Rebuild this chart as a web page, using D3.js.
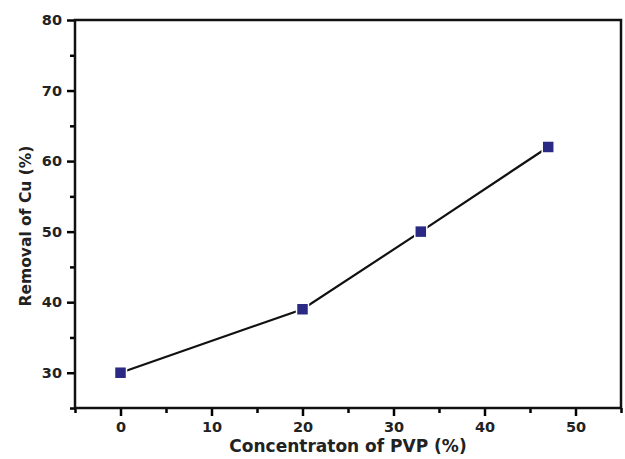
<!DOCTYPE html>
<html>
<head>
<meta charset="utf-8">
<script src="https://cdn.jsdelivr.net/npm/d3@7"></script>
<style>
  body { margin: 0; background: #fff; }
  text { font-family: "DejaVu Sans", "Liberation Sans", Arial, sans-serif; font-weight: bold; fill: #222; }
</style>
</head>
<body>
<div id="chart"></div>
<script>
// data
const pvp = [0, 20, 33, 47];
const removal = [30, 39, 50, 62];
const xTicks = [0, 10, 20, 30, 40, 50];
const yTicks = [30, 40, 50, 60, 70, 80];

let margin = { top: 20, right: 4, bottom: 51, left: 75 };
let width = 625 - margin.left - margin.right;
let height = 459 - margin.top - margin.bottom;

let svg = d3.select('#chart')
  .append('svg')
  .attr('width', 625)
  .attr('height', 459);

let g = svg.append('g')
  .attr('transform', 'translate(' + margin.left + ',' + margin.top + ')');

let x = d3.scaleLinear().domain([-5, 55]).range([0, width]);
let y = d3.scaleLinear().domain([25, 80]).range([height, 0]);

// minor ticks
g.append('g')
  .attr('transform', 'translate(0,' + height + ')')
  .call(d3.axisBottom(x).tickValues(d3.range(-5, 56, 10)).tickSize(5).tickFormat(''))
  .call(a => a.select('.domain').remove())
  .selectAll('line').attr('stroke-width', 2.5);
g.append('g')
  .call(d3.axisLeft(y).tickValues(d3.range(25, 80, 10)).tickSize(5).tickFormat(''))
  .call(a => a.select('.domain').remove())
  .selectAll('line').attr('stroke-width', 2.5);

// major ticks
let xAxis = g.append('g')
  .attr('transform', 'translate(0,' + height + ')')
  .call(d3.axisBottom(x).tickValues(xTicks).tickSize(8).tickPadding(6));
xAxis.select('.domain').remove();
xAxis.selectAll('line').attr('stroke-width', 2.5);
xAxis.selectAll('text').style('font-size', '14.5px').style('font-family', null);

let yAxis = g.append('g')
  .call(d3.axisLeft(y).tickValues(yTicks).tickSize(8).tickPadding(5));
yAxis.select('.domain').remove();
yAxis.selectAll('line').attr('stroke-width', 2.5);
yAxis.selectAll('text').style('font-size', '14.5px').style('font-family', null);

// frame
g.append('rect')
  .attr('width', width)
  .attr('height', height)
  .attr('fill', 'none')
  .attr('stroke', '#111')
  .attr('stroke-width', 2.5);

// line
let line = d3.line()
  .x((d, i) => x(pvp[i]))
  .y(d => y(d));

g.append('path')
  .datum(removal)
  .attr('d', line)
  .attr('fill', 'none')
  .attr('stroke', '#111')
  .attr('stroke-width', 2.2);

// markers
const sz = 12;
g.selectAll('.pt')
  .data(removal)
  .enter()
  .append('rect')
    .attr('class', 'pt')
    .attr('x', (d, i) => x(pvp[i]) - sz / 2)
    .attr('y', d => y(d) - sz / 2)
    .attr('width', sz)
    .attr('height', sz)
    .attr('fill', '#2a2a85')
    .attr('stroke', '#fff')
    .attr('stroke-width', 1.5);

// axis titles
svg.append('text')
  .attr('x', margin.left + width / 2)
  .attr('y', 452)
  .attr('text-anchor', 'middle')
  .style('font-size', '17px')
  .text('Concentraton of PVP (%)');

svg.append('text')
  .attr('transform', 'translate(31,' + 226 + ') rotate(-90)')
  .attr('text-anchor', 'middle')
  .style('font-size', '15.5px')
  .text('Removal of Cu (%)');
</script>
</body>
</html>
